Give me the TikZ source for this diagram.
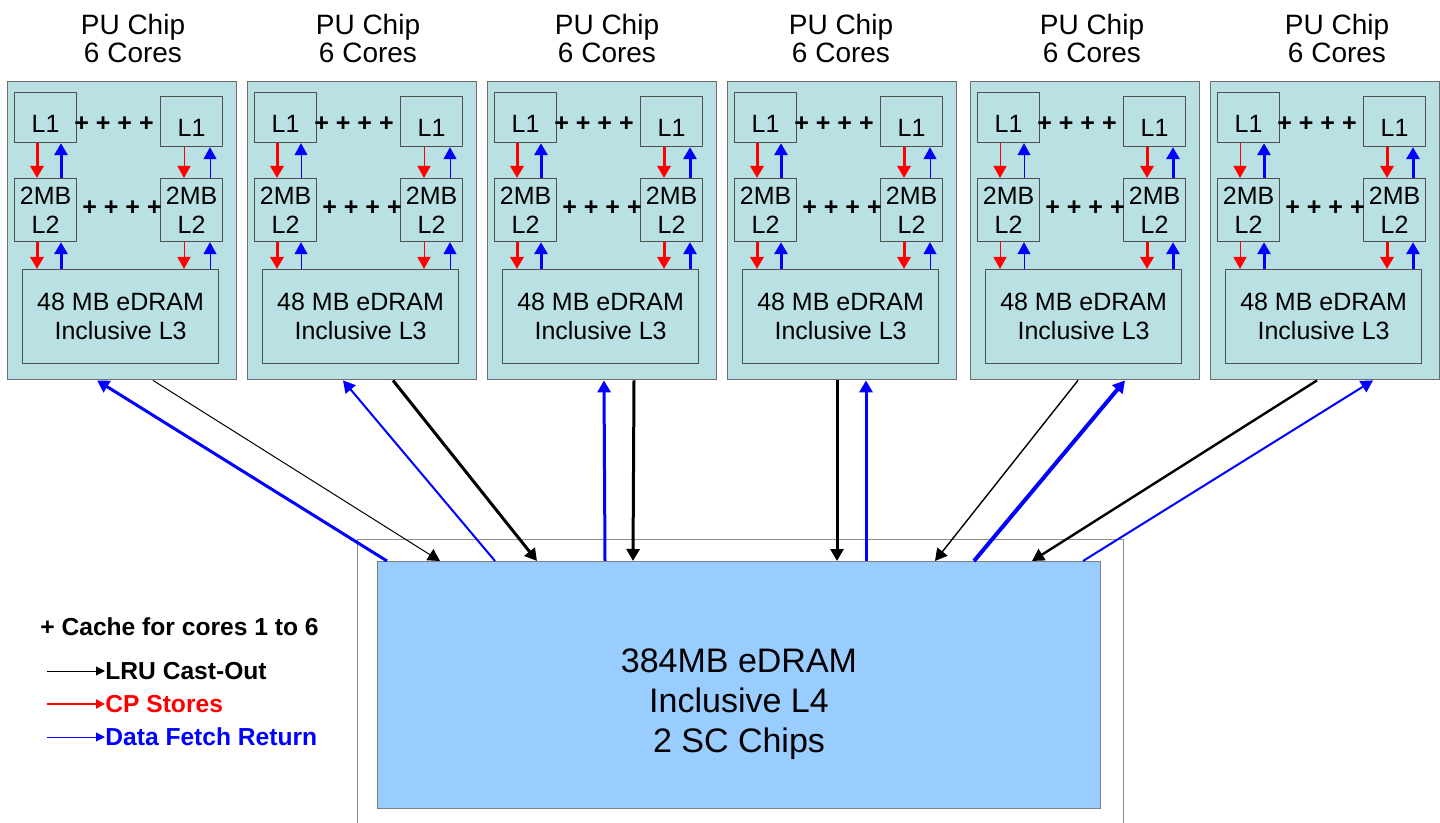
\documentclass[tikz,border=0pt]{standalone}
\usepackage{fontspec}
\setmainfont{Liberation Sans}
\usetikzlibrary{arrows.meta, positioning, calc}
\usepackage{xcolor}
\definecolor{chipfill}{RGB}{185,224,227}
\definecolor{chipline}{RGB}{110,110,110}
\definecolor{boxline}{RGB}{80,80,80}
\definecolor{lfourfill}{RGB}{153,204,255}
\definecolor{lfourline}{RGB}{128,128,128}
\definecolor{frameline}{RGB}{140,140,140}

\begin{document}
\begin{tikzpicture}[
    x=0.5pt, y=-0.5pt,
    every node/.style={font=\fontsize{12.5}{14.5}\selectfont},
    chip/.style={rectangle, draw=chipline, fill=chipfill, line width=0.7pt, minimum width=114.5pt, minimum height=149pt, inner sep=0pt, anchor=north west},
    cache/.style={rectangle, draw=boxline, line width=0.6pt, minimum width=31pt, inner sep=0pt, align=center, anchor=north west},
    lthree/.style={rectangle, draw=boxline, line width=0.6pt, minimum width=98pt, minimum height=47pt, inner sep=0pt, align=center, anchor=north west},
    title/.style={align=center, inner sep=0pt, font=\fontsize{14}{14}\selectfont},
    plus/.style={inner sep=0pt, font=\fontsize{12.5}{14}\selectfont\bfseries},
    store/.style={draw=red, -{Triangle[length=6pt,width=6.5pt]}},
    fetch/.style={draw=blue, -{Triangle[length=6pt,width=6.5pt]}},
    castout/.style={draw=black, -{Triangle[length=6pt,width=6.5pt]}},
    key/.style={inner sep=0pt, anchor=west, font=\fontsize{12.3}{13}\selectfont\bfseries},
    keytip/.style={-{Triangle[length=4.5pt,width=4.5pt]}}
]
\useasboundingbox (0,0) rectangle (1440,823);

% PU chips
\foreach \i/\xo/\tx/\ra/\ba/\rb/\bb in {
    1/7/126/1.5pt/1.5pt/0.5pt/0.5pt,
    2/247/121/1.5pt/0.5pt/0.5pt/0.5pt,
    3/487/120/1.5pt/1.5pt/1.5pt/1.5pt,
    4/727/114/1.5pt/1.5pt/1.5pt/0.5pt,
    5/970/122/0.5pt/0.5pt/1.5pt/1.5pt,
    6/1210/127/0.5pt/1.5pt/1.5pt/1.5pt}{
  \node[chip] (c\i) at (\xo,81) {};
  \node[title] (t\i) at (\xo+\tx,38) {PU Chip\\6 Cores};
  \node[cache, minimum height=25pt, text height=15.4pt, text depth=0pt] (la\i) at (\xo+7,92) {L1};
  \node[cache, minimum height=25pt, text height=15.4pt, text depth=0pt] (lb\i) at (\xo+153,96) {L1};
  \node[cache, minimum height=31.5pt] (ma\i) at (\xo+7,178) {2MB\\L2};
  \node[cache, minimum height=31.5pt] (mb\i) at (\xo+153,178) {2MB\\L2};
  \node[lthree] (n\i) at (\xo+15,269) {48 MB eDRAM\\Inclusive L3};
  \node[plus] (pa\i) at (\xo+107,124) {+ + + +};
  \node[plus] (pb\i) at (\xo+115,208) {+ + + +};
  % L1 <-> L2
  \draw[store, line width=\ra] ($(la\i.south west)+(23,0)$) coordinate (s) -- (s |- ma\i.north);
  \draw[fetch, line width=\ba] ($(ma\i.north west)+(47,0)$) coordinate (s) -- (s |- la\i.south);
  \draw[store, line width=\rb] ($(lb\i.south west)+(24,0)$) coordinate (s) -- (s |- mb\i.north);
  \draw[fetch, line width=\bb] ($(mb\i.north west)+(50,0)$) coordinate (s) -- (s |- lb\i.south);
  % L2 <-> L3
  \draw[store, line width=\ra] ($(ma\i.south west)+(23,0)$) coordinate (s) -- (s |- n\i.north);
  \draw[fetch, line width=\ba] ($(n\i.north west)+(39,0)$) coordinate (s) -- (s |- ma\i.south);
  \draw[store, line width=\rb] ($(mb\i.south west)+(24,0)$) coordinate (s) -- (s |- n\i.north);
  \draw[fetch, line width=\bb] ($(n\i.north west)+(188,0)$) coordinate (s) -- (s |- mb\i.south);
}

% L4
\node[draw=frameline, line width=0.7pt, minimum width=383pt, minimum height=150pt, inner sep=0pt, anchor=north west] (frame) at (357,539) {};
\node[draw=lfourline, fill=lfourfill, line width=0.7pt, minimum width=361.5pt, minimum height=123.5pt, inner sep=0pt, anchor=north west] (l4) at (377,561) {};
\node[align=center, inner sep=0pt, font=\fontsize{17}{20}\selectfont] (l4text) at (739,704) {384MB eDRAM\\Inclusive L4\\2 SC Chips};

% chip <-> L4
\draw[fetch, line width=1.5pt] ($(l4.north west)+(10,0)$) -- ($(c1.south west)+(90,0)$);
\draw[castout, line width=0.5pt] ($(c1.south west)+(146,0)$) -- ($(l4.north west)+(63,0)$);
\draw[fetch, line width=1pt] ($(l4.north west)+(118,0)$) -- ($(c2.south west)+(96,0)$);
\draw[castout, line width=1.5pt] ($(c2.south west)+(146,0)$) -- ($(l4.north west)+(160,0)$);
\draw[fetch, line width=1.5pt] ($(l4.north west)+(228,0)$) -- ($(c3.south west)+(117,0)$);
\draw[castout, line width=1.5pt] ($(c3.south west)+(147,0)$) -- ($(l4.north west)+(256,0)$);
\draw[castout, line width=1.5pt] ($(c4.south west)+(110,0)$) -- ($(l4.north west)+(460,0)$);
\draw[fetch, line width=1.5pt] ($(l4.north west)+(489,0)$) -- ($(c4.south west)+(139,0)$);
\draw[castout, line width=0.7pt] ($(c5.south west)+(108,0)$) -- ($(l4.north west)+(558,0)$);
\draw[fetch, line width=2pt] ($(l4.north west)+(597,0)$) -- ($(c5.south west)+(155,0)$);
\draw[castout, line width=1.2pt] ($(c6.south west)+(107,0)$) -- ($(l4.north west)+(655,0)$);
\draw[fetch, line width=1pt] ($(l4.north west)+(706,0)$) -- ($(c6.south west)+(163,0)$);

% legend
\node[key] (kcache) at (40,627) {+ Cache for cores 1 to 6};
\coordinate (klruS) at (47,671);
\node[key] (klru) at (105,671) {LRU Cast-Out};
\draw[keytip, line width=0.5pt] (klruS) -- (klru.west);
\coordinate (kcpS) at (47,704);
\node[key, text=red] (kcp) at (105,704) {CP Stores};
\draw[keytip, draw=red, line width=1.2pt] (kcpS) -- (kcp.west);
\coordinate (kdfS) at (47,737);
\node[key, text=blue] (kdf) at (105,737) {Data Fetch Return};
\draw[keytip, draw=blue, line width=0.5pt] (kdfS) -- (kdf.west);

\end{tikzpicture}
\end{document}
